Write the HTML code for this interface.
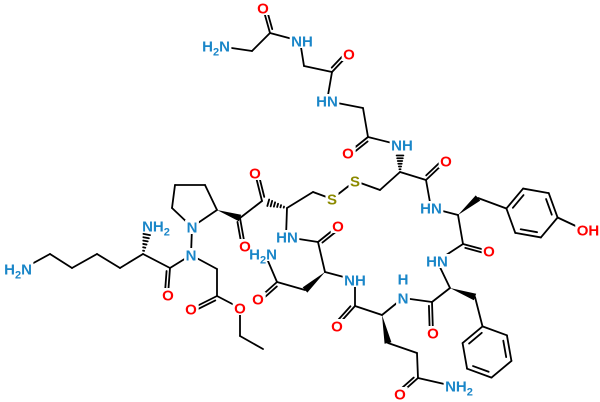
<!DOCTYPE html>
<html><head><meta charset="utf-8"><style>
html,body{margin:0;padding:0;background:#fff}
svg{display:block}
text{font-family:"Liberation Sans",Arial,sans-serif;font-size:15px;font-weight:bold;text-anchor:middle}
.n{fill:#1a86c8}.o{fill:#ff0000}.s{fill:#8c8a00}
</style></head><body>
<svg id="s" width="600" height="402" viewBox="0 0 600 402" xmlns="http://www.w3.org/2000/svg">
<g id="b" stroke="#000" stroke-width="1.8" fill="none" stroke-linecap="round"></g>
<g id="w" fill="#000"></g>
<g id="bg" fill="#fff"></g>
<g id="t"></g>
</svg>
<script>
const NS="http://www.w3.org/2000/svg";
const B=document.getElementById('b'),W=document.getElementById('w'),T=document.getElementById('t'),BG=document.getElementById('bg');
function L(a,b,c,d){const l=document.createElementNS(NS,'line');l.setAttribute('x1',a);l.setAttribute('y1',b);l.setAttribute('x2',c);l.setAttribute('y2',d);B.appendChild(l);}
function S(a,b,c,d){L(a,b,c,d);}
function D(a,b,c,d,side){L(a,b,c,d);let dx=c-a,dy=d-b,len=Math.hypot(dx,dy),nx=-dy/len*3.2*(side||1),ny=dx/len*3.2*(side||1);
 L(a+nx+dx*0.12,b+ny+dy*0.12,c+nx,d+ny);}
function Bold(a,b,c,d){let dx=c-a,dy=d-b,len=Math.hypot(dx,dy),nx=-dy/len*3.5,ny=dx/len*3.5;
 const p=document.createElementNS(NS,'polygon');p.setAttribute('points',`${a},${b} ${c+nx},${d+ny} ${c-nx},${d-ny}`);W.appendChild(p);}
function Hash(a,b,c,d){let dx=c-a,dy=d-b,len=Math.hypot(dx,dy),nx=-dy/len,ny=dx/len;
 for(let i=1;i<=6;i++){let f=i/6*0.75,w=f*4.5;let x=a+dx*f,y=b+dy*f;L(x+nx*w,y+ny*w,x-nx*w,y-ny*w);}}
function Tx(x,y,cls,html){const t=document.createElementNS(NS,'text');t.setAttribute('x',x);t.setAttribute('y',y+5.5);t.setAttribute('class',cls);t.innerHTML=html;T.appendChild(t);
 try{const bb=t.getBBox();const r=document.createElementNS(NS,'rect');r.setAttribute('x',bb.x-1.5);r.setAttribute('y',y-7);r.setAttribute('width',bb.width+3);r.setAttribute('height',14);BG.appendChild(r);}catch(e){}}
function ring(cx,cy,r,a0,dbl){let v=[];for(let i=0;i<6;i++){let a=(a0+60*i)*Math.PI/180;v.push([cx+r*Math.cos(a),cy+r*Math.sin(a)]);}
 for(let i=0;i<6;i++){let p=v[i],q=v[(i+1)%6];L(p[0],p[1],q[0],q[1]);
  if(dbl.includes(i)){let f=0.8;
   let px=cx+(p[0]-cx)*f,py=cy+(p[1]-cy)*f,qx=cx+(q[0]-cx)*f,qy=cy+(q[1]-cy)*f;
   L(px+(qx-px)*0.1,py+(qy-py)*0.1,qx-(qx-px)*0.1,qy-(qy-py)*0.1);}}
 return v;}
S(218,46,252,51);S(252,51,270,33);D(270,33,263,8);S(270,33,300,41);
S(300,41,304,66);S(304,66,332,72);D(332,72,349,54,-1);S(332,72,327,101);
S(327,101,363,108);S(363,108,368,137);D(368,137,348,153,-1);S(368,137,400,145);
Hash(400,172,400,150);S(400,172,426,180);D(426,180,446,161,-1);S(400,172,380,190);
S(380,190,355,181);S(355,181,332,199);S(332,199,313,192);S(313,192,287,208);
S(287,208,286,237);Hash(287,208,262,201);D(262,201,255,173);S(262,201,240,218);D(240,218,245,246);
Bold(217,210,240,218);
S(217,210,205,185);S(205,185,175,185);S(175,185,172,208);S(172,208,192,227);S(192,227,217,210);
S(192,227,191,255);S(191,255,170,268);D(170,268,168,295);S(170,268,143,254);Hash(143,254,148,228);
S(143,254,120,268);S(120,268,97,254);S(97,254,72,268);S(72,268,50,254);S(50,254,28,266);
S(191,255,217,269);S(217,269,217,296);D(217,296,191,309,-1);S(217,296,240,308);S(240,308,240,336);S(240,336,263,349);
S(286,237,318,242);D(318,242,338,226);S(318,242,325,272);S(325,272,355,280);Bold(325,272,305,290);
S(305,290,277,282);D(277,282,258,299,-1);S(277,282,265,254);
S(355,280,355,306);D(355,306,337,326);S(355,306,382,315);S(382,315,403,298);Bold(382,315,388,343);
S(388,343,417,353);S(417,353,418,378);D(418,378,400,394);S(418,378,453,386);
S(403,298,432,302);D(432,302,433,333);S(432,302,450,288);S(450,288,437,261);Bold(450,288,475,297);
S(475,297,482.5,326.4);ring(487,352,26,-100,[1,3,5]);
S(437,261,463,244);D(463,244,489,251);S(463,244,458,215);S(458,215,431,208);S(431,208,426,180);
Bold(458,215,478,198);S(478,198,506.4,208.5);ring(532,213,26,190,[0,2,4]);S(557.6,217.5,580,228);
Tx(263,8,'o','O');Tx(216,46,'n','H<tspan font-size="11" dy="4">2</tspan><tspan dy="-4">N</tspan>');
Tx(302,41,'n','NH');Tx(349,54,'o','O');Tx(327,101,'n','HN');Tx(348,153,'o','O');Tx(402,145,'n','NH');
Tx(446,161,'o','O');Tx(355,181,'s','S');Tx(332,199,'s','S');Tx(287,237,'n','HN');Tx(255,173,'o','O');
Tx(245,246,'o','O');Tx(192,227,'n','N');Tx(191,255,'n','N');
Tx(156,226,'n','NH<tspan font-size="11" dy="4">2</tspan>');Tx(168,295,'o','O');
Tx(18,269,'n','H<tspan font-size="11" dy="4">2</tspan><tspan dy="-4">N</tspan>');
Tx(191,309,'o','O');Tx(240,308,'o','O');Tx(338,226,'o','O');Tx(355,280,'n','NH');
Tx(263,254,'n','H<tspan font-size="11" dy="4">2</tspan><tspan dy="-4">N</tspan>');Tx(258,299,'o','O');
Tx(337,326,'o','O');Tx(403,279,'n','H');Tx(403,298,'n','N');Tx(400,394,'o','O');
Tx(459,386,'n','NH<tspan font-size="11" dy="4">2</tspan>');Tx(433,333,'o','O');Tx(437,261,'n','HN');
Tx(489,251,'o','O');Tx(431,208,'n','HN');Tx(588,230,'o','OH');
</script>
</body></html>
